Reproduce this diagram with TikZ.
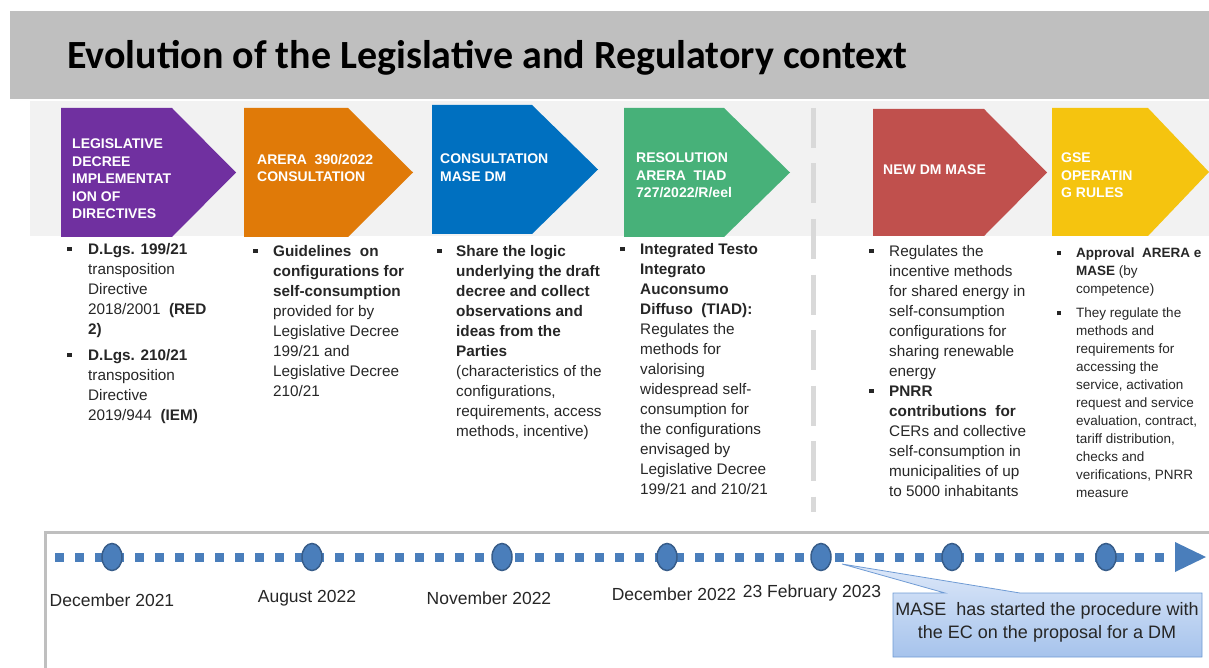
\documentclass[tikz,border=0pt]{standalone}
\usepackage{fontspec}
\setmainfont{Liberation Sans}
\newfontfamily\titlefont{Carlito}
\usetikzlibrary{shapes.geometric}

\definecolor{headgray}{HTML}{BFBFBF}
\definecolor{bandgray}{HTML}{F2F2F2}
\definecolor{cpurple}{HTML}{7030A0}
\definecolor{corange}{HTML}{E07A08}
\definecolor{cblue}{HTML}{0070C0}
\definecolor{cgreen}{HTML}{47B179}
\definecolor{cred}{HTML}{C0504D}
\definecolor{cyellow}{HTML}{F5C40F}
\definecolor{tlblue}{HTML}{4A7EBB}
\definecolor{tledge}{HTML}{385D8A}
\definecolor{divgray}{HTML}{D9D9D9}
\definecolor{bodytext}{HTML}{262626}
\definecolor{calltop}{HTML}{DDE8F9}
\definecolor{callbot}{HTML}{A6C3EC}
\definecolor{calledge}{HTML}{6F9BD4}

% square bullet and hanging indent for the description columns
\newcommand{\colbullet}[1][21pt]{\makebox[#1][l]{\raisebox{0.2em}{\rule{0.3em}{0.3em}}}}
\newcommand{\colindent}[1][21pt]{\hspace*{#1}}

\begin{document}
\begin{tikzpicture}[x=1pt,y=-1pt,
  arrowlabel/.style={anchor=north west, inner sep=0, align=left, text=white,
    font=\fontsize{14}{17.5}\selectfont\bfseries},
  coltext/.style={anchor=north west, inner sep=0, align=left, text=bodytext,
    font=\fontsize{15.3}{20}\selectfont},
  smallcoltext/.style={anchor=north west, inner sep=0, align=left, text=bodytext,
    font=\fontsize{13.5}{18}\selectfont},
  datelabel/.style={inner sep=0, text=bodytext, font=\fontsize{17.5}{20}\selectfont},
  milestone/.style={ellipse, fill=tlblue, draw=tledge, line width=1.5pt,
    minimum width=20pt, minimum height=27pt, inner sep=0},
  tldots/.style={tlblue, line width=9pt, dash pattern=on 9pt off 11pt},
]
\useasboundingbox (0,0) rectangle (1209,668);

% title bar
\fill[headgray] (10,11) rectangle (1209,99);
\node[anchor=west, inner sep=0, font=\titlefont\fontsize{40}{44}\selectfont\bfseries]
  (title) at (67,58) {Evolution of the Legislative and Regulatory context};

% band behind the phase arrows
\fill[bandgray] (30,101) rectangle (1209,236);

% phase arrows
\fill[cpurple] (61,108) -- (172,108) -- (236,172.5) -- (172,237) -- (61,237) -- cycle;
\fill[corange] (244,108) -- (348,108) -- (413,172.5) -- (348,237) -- (244,237) -- cycle;
\fill[cblue]   (432,105) -- (532,105) -- (598,169.5) -- (532,234) -- (432,234) -- cycle;
\fill[cgreen]  (624,108) -- (724,108) -- (790,172.5) -- (724,237) -- (624,237) -- cycle;
\fill[cred]    (873,109) -- (984,109) -- (1047,172.5) -- (984,236) -- (873,236) -- cycle;
\fill[cyellow] (1052,108) -- (1148,108) -- (1209,172) -- (1148,236) -- (1052,236) -- cycle;

\node[arrowlabel] (p1) at (72,139) {LEGISLATIVE\\DECREE\\IMPLEMENTAT\\ION OF\\DIRECTIVES};
\node[arrowlabel] (p2) at (257,154) {ARERA\ \ 390/2022\\CONSULTATION};
\node[arrowlabel] (p3) at (440,154) {CONSULTATION\\MASE\ DM};
\node[arrowlabel] (p4) at (636,153) {RESOLUTION\\ARERA\ \ TIAD\\727/2022/R/eel};
\node[arrowlabel] (p5) at (883,165) {NEW DM MASE};
\node[arrowlabel] (p6) at (1061,153) {GSE\\OPERATIN\\G RULES};

% divider between past and upcoming steps
\draw[divgray, line width=5pt, dash pattern=on 40pt off 15.5pt] (813,108) -- (813,512);

% descriptions
\node[coltext] (d1) at (67,243) {%
  \colbullet\textbf{D.Lgs. 199/21}\\
  \colindent transposition\\
  \colindent Directive\\
  \colindent 2018/2001 \ \textbf{(RED}\\
  \colindent\textbf{2)}\\[6pt]
  \colbullet\textbf{D.Lgs. 210/21}\\
  \colindent transposition\\
  \colindent Directive\\
  \colindent 2019/944 \ \textbf{(IEM)}};

\node[coltext] (d2) at (253,245) {%
  \colbullet[20pt]\textbf{Guidelines\ \ on}\\
  \colindent[20pt]\textbf{configurations for}\\
  \colindent[20pt]\textbf{self-consumption}\\
  \colindent[20pt]provided for by\\
  \colindent[20pt]Legislative Decree\\
  \colindent[20pt]199/21 and\\
  \colindent[20pt]Legislative Decree\\
  \colindent[20pt]210/21};

\node[coltext] (d3) at (437,245) {%
  \colbullet[19pt]\textbf{Share the logic}\\
  \colindent[19pt]\textbf{underlying\ the draft}\\
  \colindent[19pt]\textbf{decree and collect}\\
  \colindent[19pt]\textbf{observations and}\\
  \colindent[19pt]\textbf{ideas from the}\\
  \colindent[19pt]\textbf{Parties}\\
  \colindent[19pt](characteristics of the\\
  \colindent[19pt]configurations,\\
  \colindent[19pt]requirements, access\\
  \colindent[19pt]methods, incentive)};

\node[coltext] (d4) at (620,243) {%
  \colbullet[20pt]\textbf{Integrated Testo}\\
  \colindent[20pt]\textbf{Integrato}\\
  \colindent[20pt]\textbf{Auconsumo}\\
  \colindent[20pt]\textbf{Diffuso\ \ (TIAD):}\\
  \colindent[20pt]Regulates the\\
  \colindent[20pt]methods for\\
  \colindent[20pt]valorising\\
  \colindent[20pt]widespread self-\\
  \colindent[20pt]consumption for\\
  \colindent[20pt]the configurations\\
  \colindent[20pt]envisaged by\\
  \colindent[20pt]Legislative Decree\\
  \colindent[20pt]199/21 and 210/21};

\node[coltext] (d5) at (869,245) {%
  \colbullet[20pt]Regulates the\\
  \colindent[20pt]incentive methods\\
  \colindent[20pt]for shared energy in\\
  \colindent[20pt]self-consumption\\
  \colindent[20pt]configurations for\\
  \colindent[20pt]sharing renewable\\
  \colindent[20pt]energy\\
  \colbullet[20pt]\textbf{PNRR}\\
  \colindent[20pt]\textbf{contributions\ \ for}\\
  \colindent[20pt]CERs and collective\\
  \colindent[20pt]self-consumption in\\
  \colindent[20pt]municipalities of up\\
  \colindent[20pt]to 5000 inhabitants};

\node[smallcoltext] (d6) at (1057,248) {%
  \colbullet[19pt]\textbf{Approval\ \ ARERA e}\\
  \colindent[19pt]\textbf{MASE} (by\\
  \colindent[19pt]competence)\\[6pt]
  \colbullet[19pt]They regulate the\\
  \colindent[19pt]methods and\\
  \colindent[19pt]requirements for\\
  \colindent[19pt]accessing the\\
  \colindent[19pt]service, activation\\
  \colindent[19pt]request and service\\
  \colindent[19pt]evaluation, contract,\\
  \colindent[19pt]tariff distribution,\\
  \colindent[19pt]checks and\\
  \colindent[19pt]verifications, PNRR\\
  \colindent[19pt]measure};

% timeline frame
\draw[headgray, line width=3pt] (45,672) -- (45,532) -- (1212,532);

% timeline
\coordinate (tlstart) at (55,557);
\coordinate (tlend) at (1176,557);
\draw[tldots] (tlstart) -- (tlend);
\fill[tlblue] (1175,542) -- (1206,557) -- (1175,572) -- cycle;

\node[milestone] (m1) at (112,557) {};
\node[milestone] (m2) at (312,557) {};
\node[milestone] (m3) at (502,557) {};
\node[milestone] (m4) at (667,557) {};
\node[milestone] (m5) at (821,557) {};
\node[milestone] (m6) at (952,557) {};
\node[milestone] (m7) at (1106,557) {};

\node[datelabel] (l1) at (112,600) {December 2021};
\node[datelabel] (l2) at (307,598) {August 2022};
\node[datelabel] (l3) at (489,598) {November 2022};
\node[datelabel] (l4) at (674,594) {December 2022};
\node[datelabel] (l5) at (812,593) {23 February 2023};

% callout attached to the February 2023 milestone
\coordinate (ptip) at (842,564);
\draw[calledge, line width=0.8pt, top color=calltop, bottom color=callbot]
  (893,593) -- (945,593) -- (ptip) -- (1020,593) -- (1202,593)
  -- (1202,657) -- (893,657) -- cycle;
\node[inner sep=0, align=center, text=bodytext, font=\fontsize{18}{23}\selectfont]
  (callout) at (1047,622) {MASE\ \ has started the procedure with\\the EC on the proposal for a DM};
\end{tikzpicture}
\end{document}
